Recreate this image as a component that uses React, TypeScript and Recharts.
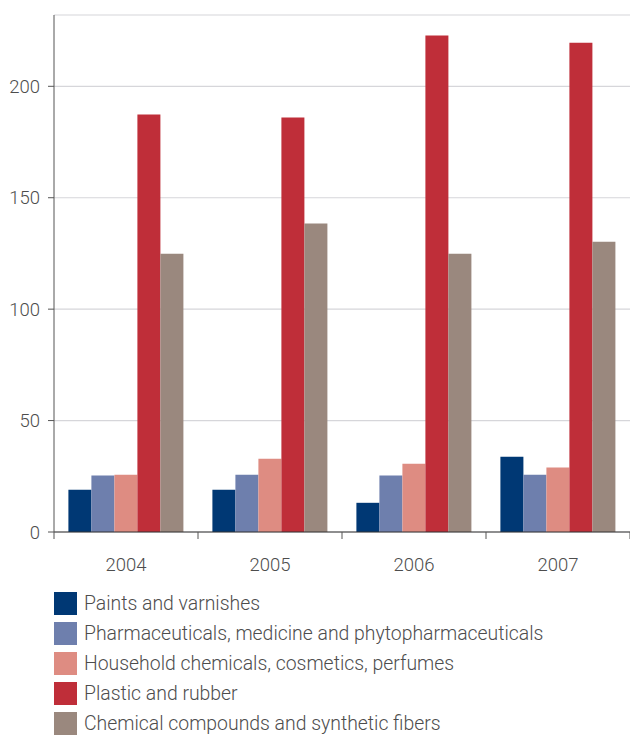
import React from "react";
import { BarChart, Bar, XAxis, YAxis, CartesianGrid } from "recharts";

const years = ["2004", "2005", "2006", "2007"];
const paints = [19, 19, 13.1, 33.8];
const pharma = [25.3, 25.7, 25.3, 25.7];
const household = [25.7, 32.9, 30.6, 28.9];
const plastic = [187.3, 186, 222.8, 219.6];
const chemical = [124.9, 138.4, 124.9, 130.3];
const yTicks = [0, 50, 100, 150, 200];

const series = [
  { key: "paints", name: "Paints and varnishes", color: "#003874" },
  { key: "pharma", name: "Pharmaceuticals, medicine and phytopharmaceuticals", color: "#6e7fad" },
  { key: "household", name: "Household chemicals, cosmetics, perfumes", color: "#de8c82" },
  { key: "plastic", name: "Plastic and rubber", color: "#bf2e39" },
  { key: "chemical", name: "Chemical compounds and synthetic fibers", color: "#9a887e" },
];

const data = years.map((year, i) => ({
  year,
  paints: paints[i],
  pharma: pharma[i],
  household: household[i],
  plastic: plastic[i],
  chemical: chemical[i],
}));

const FONT = "Roboto, 'Open Sans', sans-serif";
const TEXT = "#4d4d4d";
const W = 630;
const H = 735;
const LEFT = 54;
const BAND = (W - LEFT) / years.length;

function YearTick(props: any) {
  const { x, y, payload, index } = props;
  const half = BAND / 2;
  return (
    <g>
      <line x1={x - half} x2={x - half} y1={y} y2={y + 7} stroke="#555" strokeWidth={1} />
      {index === years.length - 1 && (
        <line x1={x + half} x2={x + half} y1={y} y2={y + 7} stroke="#555" strokeWidth={1} />
      )}
      <text x={x} y={y + 39} textAnchor="middle" fill={TEXT} fontSize={18.5} fontWeight={300} fontFamily={FONT}>
        {payload.value}
      </text>
    </g>
  );
}

export default function App() {
  return (
    <div style={{ position: "absolute", left: 0, top: 0, width: W, height: H, background: "#fff", overflow: "hidden" }}>
      <BarChart
        width={W}
        height={H}
        data={data}
        margin={{ top: 15, right: 0, left: 0, bottom: 153 }}
        barCategoryGap="10%"
        barGap={0}
      >
        <CartesianGrid vertical={false} stroke="#d6d6da" strokeWidth={1.2} />
        <XAxis
          dataKey="year"
          axisLine={{ stroke: "#333", strokeWidth: 1.2 }}
          tickLine={false}
          tickSize={0}
          tickMargin={0}
          height={50}
          tick={<YearTick />}
          interval={0}
        />
        <YAxis
          width={LEFT}
          domain={[0, 232]}
          ticks={yTicks}
          interval={0}
          axisLine={{ stroke: "#555" }}
          tickLine={{ stroke: "#555" }}
          tickSize={6}
          tickMargin={8}
          tick={{ fill: TEXT, fontSize: 18.5, fontWeight: 300, fontFamily: FONT }}
        />
        {series.map((s) => (
          <Bar key={s.key} dataKey={s.key} name={s.name} fill={s.color} isAnimationActive={false} />
        ))}
      </BarChart>
      <div style={{ position: "absolute", left: 54, top: 588, fontFamily: FONT, fontSize: 19.4, fontWeight: 300, color: TEXT }}>
        {series.map((s) => (
          <div key={s.key} style={{ display: "flex", alignItems: "center", height: 30 }}>
            <span style={{ display: "inline-block", width: 23, height: 23, background: s.color, marginRight: 7, flexShrink: 0 }} />
            <span style={{ whiteSpace: "nowrap", lineHeight: "23px" }}>{s.name}</span>
          </div>
        ))}
      </div>
    </div>
  );
}
